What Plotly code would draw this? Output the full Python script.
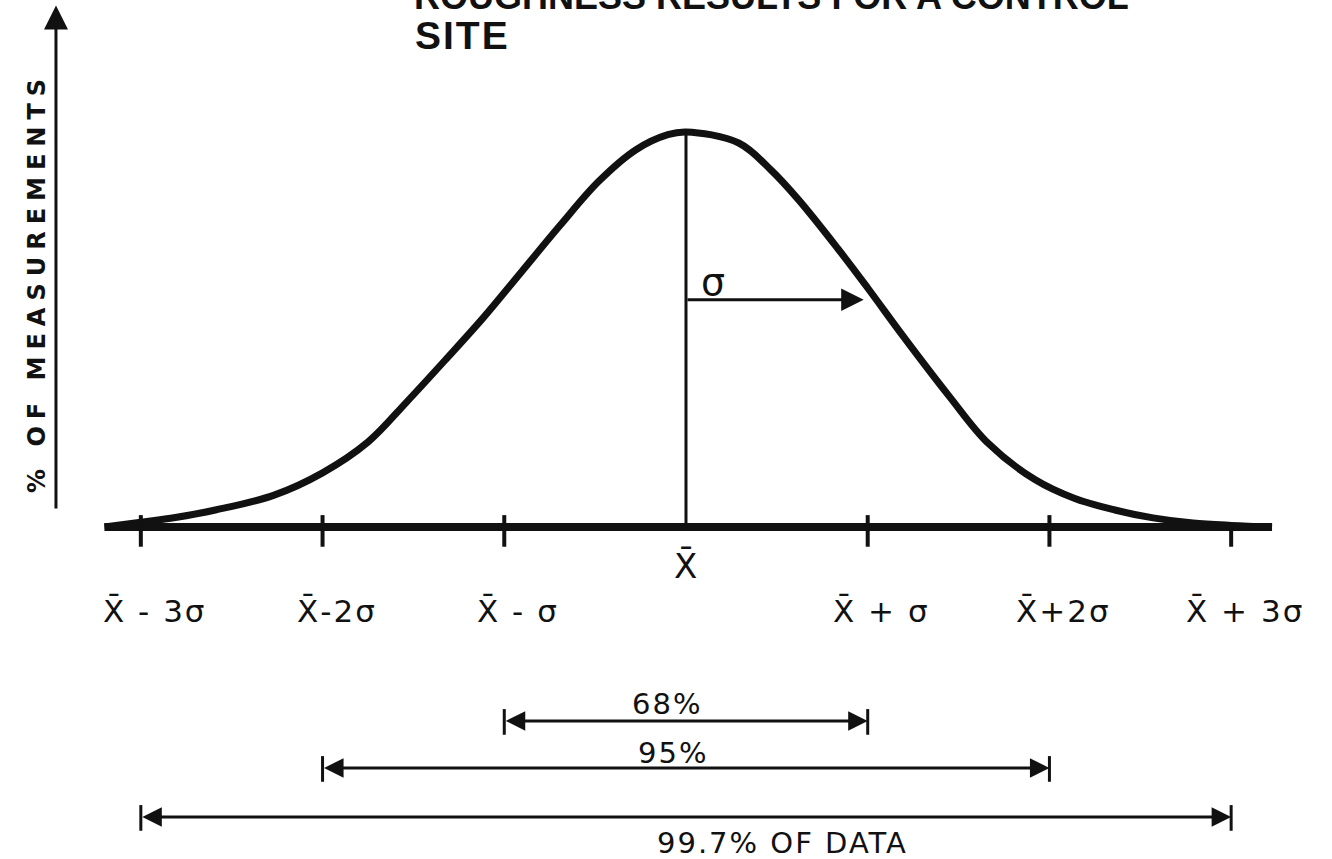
import plotly.graph_objects as go

# ---------------- data ----------------
# bell curve, x in units of sigma from the mean, height relative to the peak
curve_x = [-3.2, -3.0, -2.81, -2.59, -2.27, -2.0, -1.75, -1.54, -1.32, -1.115,
           -0.907, -0.69, -0.48, -0.275, -0.1, 0.0, 0.29, 0.467, 0.62, 0.835,
           1.0, 1.2, 1.45, 1.66, 1.92, 2.14, 2.36, 2.57, 2.79, 3.0, 3.225]
curve_y = [0.0, 0.012, 0.024, 0.043, 0.08, 0.137, 0.215, 0.315, 0.425, 0.53,
           0.645, 0.765, 0.875, 0.955, 0.993, 1.0, 0.972, 0.904, 0.828, 0.705,
           0.605, 0.48, 0.33, 0.213, 0.12, 0.072, 0.043, 0.023, 0.01, 0.004, 0.0]

tick_sigma = [-3, -2, -1, 1, 2, 3]
tick_labels = ["X\u0304 - 3\u03c3", "X\u0304-2\u03c3", "X\u0304 - \u03c3",
               "X\u0304 + \u03c3", "X\u0304+2\u03c3", "X\u0304 + 3\u03c3"]
mean_label = "X\u0304"

coverage_span = [1, 2, 3]
coverage_labels = ["68%", "95%", "99.7% OF DATA"]

title_lines = ["ROUGHNESS RESULTS FOR A CONTROL", "SITE"]
y_title = "% OF MEASUREMENTS"

# ---------------- layout helpers ----------------
W, H = 1332, 859
INK = "#111111"
X_RANGE = [-3.775, 3.555]
Y_RANGE = [-0.8405, 1.334]

fig = go.Figure()

# baseline
fig.add_trace(go.Scatter(x=[curve_x[0], curve_x[-1]], y=[0, 0], mode="lines",
                         line=dict(color=INK, width=8), hoverinfo="skip"))
# bell curve
fig.add_trace(go.Scatter(x=curve_x, y=curve_y, mode="lines",
                         line=dict(color=INK, width=7, shape="spline", smoothing=1.0),
                         hoverinfo="skip"))

shapes = []
# ticks
for s in tick_sigma:
    top = 0.0 if s == 3 else 0.03
    shapes.append(dict(type="line", xref="x", yref="y", x0=s, x1=s, y0=top, y1=-0.05,
                       line=dict(color=INK, width=4)))
# mean line
shapes.append(dict(type="line", xref="x", yref="y", x0=0, x1=0, y0=0,
                   y1=max(curve_y), line=dict(color=INK, width=3)))

annotations = []
label_font = dict(family="DejaVu Sans", size=31, color=INK)

# tick labels
for s, lab in zip(tick_sigma, tick_labels):
    annotations.append(dict(x=s, y=-0.212, xref="x", yref="y",
                            text='<span style="letter-spacing:2px">' + lab + "</span>",
                            showarrow=False, xanchor="center", yanchor="middle", xshift=14,
                            font=label_font))
annotations.append(dict(x=0, y=-0.10, xref="x", yref="y", text=mean_label, showarrow=False,
                        xanchor="center", yanchor="middle",
                        font=dict(family="DejaVu Sans", size=34, color=INK)))

# sigma arrow
annotations.append(dict(x=1, y=0.575, ax=0, ay=0.575, xref="x", yref="y", axref="x", ayref="y",
                        text="", showarrow=True, arrowhead=2, arrowsize=1.5, arrowwidth=3,
                        arrowcolor=INK, standoff=4))
annotations.append(dict(x=0.149, y=0.62, xref="x", yref="y", text="\u03c3", showarrow=False,
                        font=dict(family="DejaVu Sans", size=38, color=INK)))

# vertical axis arrow
annotations.append(dict(x=-3.467, y=1.32, ax=-3.467, ay=0.043, xref="x", yref="y",
                        axref="x", ayref="y", text="", showarrow=True, arrowhead=2,
                        arrowsize=1.6, arrowwidth=3, arrowcolor=INK))

# coverage brackets
row_y = [-0.491, -0.610, -0.734]
text_y = [-0.448, -0.572, -0.800]
text_x = [-0.105, -0.07, 0.53]
for k, lab, ry, ty, tx in zip(coverage_span, coverage_labels, row_y, text_y, text_x):
    annotations.append(dict(x=k, y=ry, ax=-k, ay=ry, xref="x", yref="y", axref="x", ayref="y",
                            text="", showarrow=True, arrowside="end+start",
                            arrowhead=2, startarrowhead=2, arrowsize=1.3, startarrowsize=1.3,
                            arrowwidth=3, arrowcolor=INK))
    for s in (-k, k):
        shapes.append(dict(type="line", xref="x", yref="y", x0=s, x1=s, y0=ry + 0.03,
                           y1=ry - 0.035, line=dict(color=INK, width=3)))
    annotations.append(dict(x=tx, y=ty, xref="x", yref="y",
                            text='<span style="letter-spacing:2px">' + lab + "</span>",
                            showarrow=False, xanchor="center", yanchor="middle",
                            font=dict(family="DejaVu Sans", size=29, color=INK)))

# title (first line partly cut off at the top of the page, as in the reference)
annotations.append(dict(x=412 / W, y=1 - 19 / H, xref="paper", yref="paper",
                        text="<b>" + title_lines[0] + "</b>", showarrow=False,
                        xanchor="left", yanchor="bottom",
                        font=dict(family="Liberation Sans", size=36, color=INK)))
annotations.append(dict(x=413 / W, y=1 - 35 / H, xref="paper", yref="paper",
                        text='<b><span style="letter-spacing:2px">' + title_lines[1]
                             + "</span></b>",
                        showarrow=False, xanchor="left", yanchor="middle",
                        font=dict(family="Liberation Sans", size=39, color=INK)))

# y axis title
annotations.append(dict(x=37 / W, y=1 - 283 / H, xref="paper", yref="paper",
                        text='<b><span style="letter-spacing:7px">' + y_title + "</span></b>",
                        showarrow=False, textangle=-90, xanchor="center", yanchor="middle",
                        font=dict(family="DejaVu Sans", size=24, color=INK)))

fig.update_layout(
    width=W, height=H,
    margin=dict(l=0, r=0, t=0, b=0),
    paper_bgcolor="white", plot_bgcolor="white",
    showlegend=False,
    xaxis=dict(range=X_RANGE, visible=False, fixedrange=True),
    yaxis=dict(range=Y_RANGE, visible=False, fixedrange=True),
    shapes=shapes, annotations=annotations,
)

fig.write_html("out.html", config={"displayModeBar": False},
               post_script="document.body.style.margin='0';")
